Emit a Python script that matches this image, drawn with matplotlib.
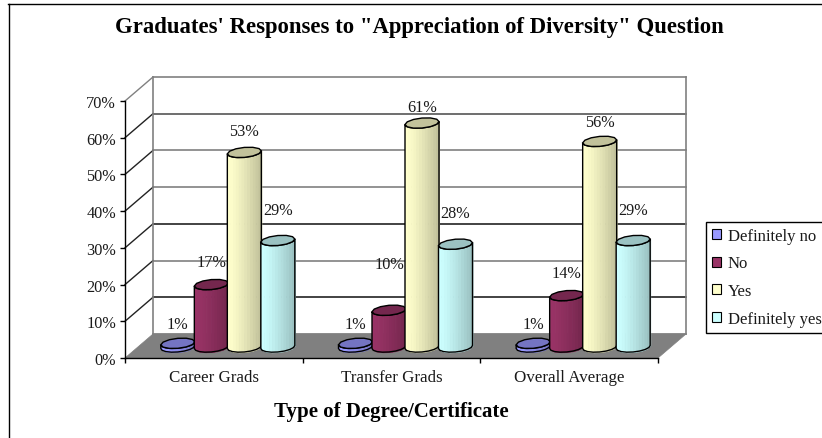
import numpy as np
import matplotlib
matplotlib.use("Agg")
import matplotlib.pyplot as plt
from matplotlib.colors import to_rgb
from matplotlib.patches import Rectangle, Polygon
from matplotlib.lines import Line2D

plt.rcParams['font.family'] = ['Liberation Serif', 'DejaVu Serif']
plt.rcParams['text.color'] = '#1a1a1a'
plt.rcParams['ytick.labelcolor'] = '#1a1a1a'

# ---- data
categories = ["Career Grads", "Transfer Grads", "Overall Average"]
series_names = ["Definitely no", "No", "Yes", "Definitely yes"]
definitely_no = [1, 1, 1]
no = [17, 10, 14]
yes = [53, 61, 56]
definitely_yes = [29, 28, 29]
y_ticks = [0, 10, 20, 30, 40, 50, 60, 70]
title = "Graduates' Responses to \"Appreciation of Diversity\" Question"
x_title = "Type of Degree/Certificate"

series_values = [definitely_no, no, yes, definitely_yes]
colors = ["#9999FF", "#993366", "#FFFFCC", "#CCFFFF"]
# label height in pixels above the top of each column
label_shift = [[19, 23, 21, 31],
               [19, 46, 16, 31],
               [19, 23, 19, 31]]
grid_colors = ["#808080", "#222222", "#808080", "#222222", "#808080", "#808080", "#555555", "#808080"]

W, H, DPI = 822, 439, 100
fig = plt.figure(figsize=(W / DPI, H / DPI), dpi=DPI, facecolor="white")
# outer frame: only left and top edges fall inside the picture
fig.add_artist(Line2D([8.5 / W, 8.5 / W], [0, 1 - 4.5 / H], transform=fig.transFigure, color="black", lw=1.0))
fig.add_artist(Line2D([8 / W, 1], [1 - 4.5 / H, 1 - 4.5 / H], transform=fig.transFigure, color="black", lw=1.0))

# axes: front plane of the oblique box
left, right, top, bottom = 125, 658, 102, 359
ax = fig.add_axes([left / W, 1 - bottom / H, (right - left) / W, (bottom - top) / H])
ax.set_xlim(0, 3)
ax.set_ylim(0, 70)
ax.patch.set_visible(False)
px_x = 3 / (right - left)
px_y = 70 / (bottom - top)
dx, dy = 28 * px_x, 24 * px_y

for s in ("top", "right"):
    ax.spines[s].set_visible(False)
for s in ("left", "bottom"):
    ax.spines[s].set_linewidth(1.0)
ax.set_xticks([0, 1, 2, 3])
ax.set_xticklabels([])
ax.set_yticks(y_ticks)
ax.set_yticklabels([f"{v}%" for v in y_ticks], fontsize=11.7)
ax.tick_params(axis="both", length=3.6, width=1, direction="out", pad=3)
for i, c in enumerate(categories):
    ax.text(i + 0.5, -19 * px_y, c, ha="center", va="center", fontsize=12.2, clip_on=False)
ax.text(1.5, -53 * px_y, x_title, ha="center", va="center", fontsize=15, fontweight="bold",
        color="black", clip_on=False)
fig.text(419 / W, 1 - 27 / H, title, ha="center", va="center", fontsize=16.4, fontweight="bold", color="black")

# floor
ax.add_patch(Polygon([(0, 0), (3, 0), (3 + dx, dy), (dx, dy)], fc="#808080", ec="#808080", lw=0.5,
                     clip_on=False, zorder=1))
# walls and grid
for v, gc in zip(y_ticks, grid_colors):
    ax.plot([dx, 3 + dx], [v + dy, v + dy], color=gc, lw=1.2, clip_on=False, zorder=1.2)
    if v > 0:
        ax.plot([0, dx], [v, v + dy], color="#222222" if v < 70 else "#808080", lw=1.0, clip_on=False, zorder=1.2)
ax.plot([dx, dx], [dy, 70 + dy], color="#808080", lw=1.2, clip_on=False, zorder=1.2)
ax.plot([3 + dx, 3 + dx], [dy, 70 + dy], color="#808080", lw=1.2, clip_on=False, zorder=1.2)


def shade(rgb, t):
    # light on the left, darker to the right
    f = 1.0 - 0.27 * t ** 1.3
    return tuple(c * f for c in rgb)


def cylinder(xc, height, color, z):
    bw = 17.0 * px_x
    ry = 5.0 * px_y
    tilt = 1.5 * px_y
    base = 3.0
    rgb = to_rgb(color)
    th = np.linspace(np.pi, 2 * np.pi, 9)
    xs = xc + bw * np.cos(th)
    yb = base + ry * np.sin(th) + tilt * np.cos(th)
    top_y = base + height + ry * np.sin(th) + tilt * np.cos(th)
    fine = np.linspace(-1, 1, 13)
    for a, b in zip(fine[:-1], fine[1:]):
        xa = xc + bw * np.array([a, b])
        ya = np.interp(xa, xs, yb)
        yt = np.interp(xa, xs, top_y)
        col = shade(rgb, (a + 1) / 2)
        ax.fill_between(xa, ya, yt, facecolor=col, edgecolor=col, lw=0.7, clip_on=False, zorder=z)
    outline = list(zip(xs, yb)) + list(zip(xs[::-1], top_y[::-1]))
    ax.add_patch(Polygon(outline, fill=False, ec="black", lw=1.0, clip_on=False, zorder=z + 0.1))
    th2 = np.linspace(0, 2 * np.pi, 13)
    cap = list(zip(xc + bw * np.cos(th2), base + height + ry * np.sin(th2) + tilt * np.cos(th2)))
    ax.add_patch(Polygon(cap, fc=tuple(c * 0.76 for c in rgb), ec="black", lw=1.0, clip_on=False, zorder=z + 0.2))


offsets_px = [-50, -16.5, 16.5, 50]
for k, (vals, col) in enumerate(zip(series_values, colors)):
    for i, v in enumerate(vals):
        xc = i + 0.5 + dx / 2 + offsets_px[k] * px_x
        cylinder(xc, v, col, 3 + k * 0.5)
        ax.annotate(f"{v}%", (xc, 3.0 + v), xytext=(0, label_shift[i][k] * 0.72), textcoords="offset points",
                    ha="center", va="center", fontsize=11.7, annotation_clip=False, zorder=6)

# legend
handles = [Rectangle((0, 0), 1, 1, fc=c, ec="black", lw=0.8) for c in colors]
leg = fig.legend(handles, series_names, loc="upper left", bbox_to_anchor=(706 / W, 1 - 223 / H),
                 bbox_transform=fig.transFigure, frameon=True, fancybox=False, edgecolor="black",
                 fontsize=12, handlelength=0.55, handleheight=0.55, handletextpad=0.4,
                 labelspacing=0.69, borderpad=0.36, borderaxespad=0, framealpha=1)
leg.get_frame().set_linewidth(1.0)

fig.savefig("out.png", dpi=DPI)
